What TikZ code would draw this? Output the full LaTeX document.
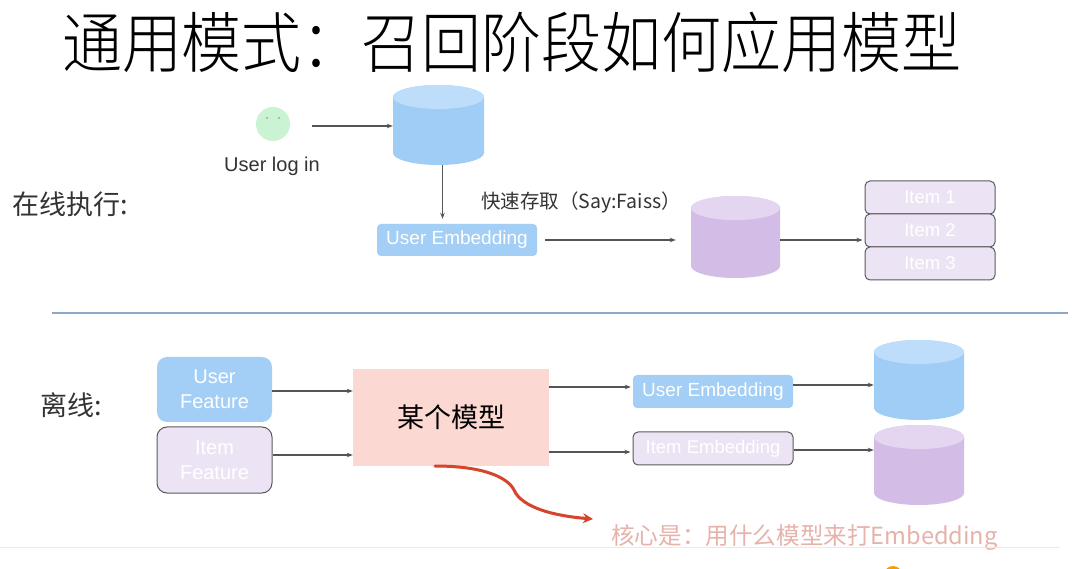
\documentclass[tikz,border=0pt]{standalone}
\usepackage{fontspec}
\setmainfont{Liberation Sans}
\newfontfamily\cjk{Noto Sans CJK SC}
\newfontfamily\cjklight{Noto Sans CJK SC Light}
\usetikzlibrary{arrows.meta,calc}
\definecolor{blueBody}{HTML}{9FCDF6}
\definecolor{blueTop}{HTML}{BDDDFA}
\definecolor{purpBody}{HTML}{D3BDE6}
\definecolor{purpTop}{HTML}{E4D6F0}
\definecolor{itemFill}{HTML}{ECE4F4}
\definecolor{boxBorder}{HTML}{5A5A5A}
\definecolor{boxBlue}{HTML}{A3CEF6}
\definecolor{pinkFill}{HTML}{FBD8D2}
\definecolor{arrowGray}{HTML}{555555}
\definecolor{txtGray}{HTML}{333333}
\definecolor{sepBlue}{HTML}{8AA9C6}
\definecolor{redCurve}{HTML}{D6442B}
\definecolor{salmonTxt}{HTML}{E6B3AA}
\definecolor{faceGreen}{HTML}{C9F3D3}
\newcommand\mycyl[7]{% name, cx, cy, w, h, body, top
  \node[minimum width=#4pt, minimum height=#5pt, inner sep=0pt, draw=none] (#1) at (#2,#3) {};
  \fill[#6] ({#2-#4/2},{#3-#5/2+12}) -- ({#2-#4/2},{#3+#5/2-12})
     arc[start angle=180, end angle=360, x radius={#4/2*1pt}, y radius=12pt]
     -- ({#2+#4/2},{#3-#5/2+12})
     arc[start angle=0, end angle=180, x radius={#4/2*1pt}, y radius=12pt] -- cycle;
  \fill[#7] (#2,{#3-#5/2+12}) ellipse[x radius={#4/2*1pt}, y radius=12pt];
}
\tikzset{
  conn/.style={draw=arrowGray, line width=1.1pt, -{Stealth[length=6pt,width=4.5pt]}},
  bluebox/.style={rounded corners=4pt, fill=boxBlue, text=white, inner sep=0pt, font=\fontsize{19}{21}\selectfont},
  purpbox/.style={rounded corners=5pt, fill=itemFill, draw=boxBorder, line width=1pt, text=white, inner sep=0pt, font=\fontsize{18.5}{20}\selectfont},
  lbl/.style={text=txtGray, inner sep=0pt},
}
\begin{document}
\begin{tikzpicture}[x=1pt,y=-1pt]
\useasboundingbox (0,0) rectangle (1080,569);
\fill[white] (0,0) rectangle (1080,569);
% title
\node[inner sep=0pt, yscale=1.1, font=\cjklight\fontsize{60}{64}\selectfont] (title) at (512,42) {通用模式：召回阶段如何应用模型};
% online section
\node[lbl, anchor=west, font=\cjk\fontsize{27}{30}\selectfont] (online) at (12,204) {在线执行:};
\node[circle, fill=faceGreen, minimum size=34pt, inner sep=0pt] (face) at (273,124) {};
\fill[gray!70] (267,118) circle (1.1pt) (279,118) circle (1.1pt);
\node[lbl, font=\fontsize{20}{22}\selectfont] (login) at (272,166) {User log in};
\mycyl{cylA}{438.5}{125}{91}{80}{blueBody}{blueTop}
\draw[conn, shorten <=22pt] (face.east |- 0,126) -- (cylA.west |- 0,126);
\node[bluebox, minimum width=160pt, minimum height=32pt] (ue1) at (457,240) {User Embedding};
\draw[conn, shorten >=5pt] ([xshift=4pt]cylA.south) -- ([xshift=4pt]cylA.south |- ue1.north);
\node[lbl, anchor=west, font=\cjk\fontsize{19.5}{22}\selectfont] (faiss) at (481,202) {快速存取（Say:Faiss）};
\mycyl{cylB}{735.5}{237}{89}{82}{purpBody}{purpTop}
\draw[conn, shorten <=8pt, shorten >=15pt] (ue1.east) -- (ue1.east -| cylB.west);
\node[purpbox, minimum width=130pt, minimum height=33pt] (i1) at (930,197.5) {Item 1};
\node[purpbox, minimum width=130pt, minimum height=33pt] (i2) at (930,230.5) {Item 2};
\node[purpbox, minimum width=130pt, minimum height=33pt] (i3) at (930,263.5) {Item 3};
\draw[conn, shorten >=2pt] (cylB.east |- 0,240) -- (i2.west |- 0,240);
% separator
\coordinate (sepL) at (52,313);
\coordinate (sepR) at (1068,313);
\draw[sepBlue, line width=1.5pt] (sepL) -- (sepR);
% offline section
\node[lbl, anchor=west, font=\cjk\fontsize{27}{30}\selectfont] (offline) at (40,405) {离线:};
\node[rounded corners=10pt, fill=boxBlue, text=white, minimum width=115pt, minimum height=65pt, align=center, inner sep=0pt, font=\fontsize{20}{25}\selectfont] (uf) at (214.5,389.5) {User\\Feature};
\node[rounded corners=10pt, fill=itemFill, draw=boxBorder, line width=1pt, text=white, minimum width=115pt, minimum height=66pt, align=center, inner sep=0pt, font=\fontsize{20}{25}\selectfont] (itf) at (214.5,460) {Item\\Feature};
\node[fill=pinkFill, minimum width=196pt, minimum height=97pt, inner sep=0pt, font=\cjk\fontsize{27}{30}\selectfont] (model) at (451,417.5) {某个模型};
\draw[conn] (uf.east |- 0,391) -- (model.west |- 0,391);
\draw[conn] (itf.east |- 0,455) -- (model.west |- 0,455);
\node[bluebox, minimum width=160pt, minimum height=33pt] (ue2) at (713,391.5) {User Embedding};
\node[purpbox, minimum width=160pt, minimum height=33pt] (ie2) at (713,448.5) {Item Embedding};
\draw[conn, shorten >=2pt] (model.east |- 0,387) -- (ue2.west |- 0,387);
\draw[conn, shorten >=2pt] (model.east |- 0,452) -- (ie2.west |- 0,452);
\mycyl{cylC}{919}{380}{90}{80}{blueBody}{blueTop}
\mycyl{cylD}{919}{465}{90}{80}{purpBody}{purpTop}
\draw[conn] (ue2.east |- 0,385) -- (cylC.west |- 0,385);
\draw[conn] (ie2.east |- 0,450) -- (cylD.west |- 0,450);
% red curve
\coordinate (rs) at (435,466);
\coordinate (re) at (593,519);
\draw[redCurve, line width=3pt, line cap=round, -{Stealth[length=10pt,width=10pt]}]
  (rs) .. controls (485,466) and (508,478) .. (514,490)
       .. controls (522,508) and (555,516) .. (re);
\node[text=salmonTxt, anchor=west, inner sep=0pt, font=\cjk\fontsize{23.6}{26}\selectfont] (core) at (611,537) {核心是：用什么模型来打Embedding};
% bottom line
\coordinate (botL) at (0,547);
\coordinate (botR) at (1060,547);
\draw[color={rgb,255:red,227;green,236;blue,238}, line width=1pt] (botL) -- (botR);
\fill[orange!80!yellow] (893,575) circle (9pt);
\end{tikzpicture}
\end{document}
